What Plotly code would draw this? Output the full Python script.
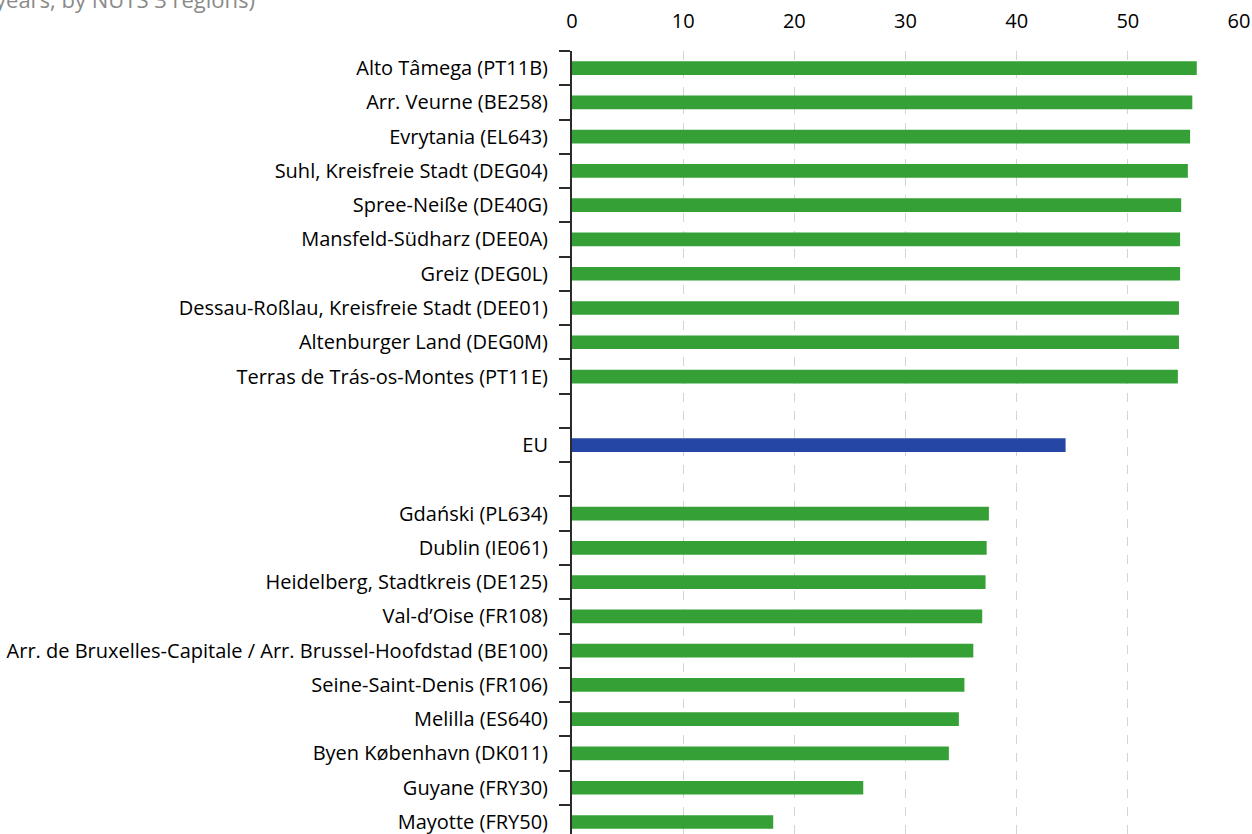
import plotly.graph_objects as go

regions = [
    "Alto Tâmega (PT11B)",
    "Arr. Veurne (BE258)",
    "Evrytania (EL643)",
    "Suhl, Kreisfreie Stadt (DEG04)",
    "Spree-Neiße (DE40G)",
    "Mansfeld-Südharz (DEE0A)",
    "Greiz (DEG0L)",
    "Dessau-Roßlau, Kreisfreie Stadt (DEE01)",
    "Altenburger Land (DEG0M)",
    "Terras de Trás-os-Montes (PT11E)",
    " ",
    "EU",
    "  ",
    "Gdański (PL634)",
    "Dublin (IE061)",
    "Heidelberg, Stadtkreis (DE125)",
    "Val-d’Oise (FR108)",
    "Arr. de Bruxelles-Capitale / Arr. Brussel-Hoofdstad (BE100)",
    "Seine-Saint-Denis (FR106)",
    "Melilla (ES640)",
    "Byen København (DK011)",
    "Guyane (FRY30)",
    "Mayotte (FRY50)",
]
values = [56.2, 55.8, 55.6, 55.4, 54.8, 54.7, 54.7, 54.6, 54.6, 54.5,
          None, 44.4, None,
          37.5, 37.3, 37.2, 36.9, 36.1, 35.3, 34.8, 33.9, 26.2, 18.1]
x_ticks = [0, 10, 20, 30, 40, 50, 60]

GREEN = "#34a035"
BLUE = "#2646a6"
colors = [BLUE if r == "EU" else GREEN for r in regions]

fig = go.Figure(go.Bar(
    x=values, y=regions, orientation="h",
    marker=dict(color=colors, line=dict(width=0)),
    width=0.4,
))

font_family = "Open Sans, Noto Sans, sans-serif"

fig.update_layout(
    width=1252, height=834,
    margin=dict(l=572, r=13, t=51, b=0),
    paper_bgcolor="white", plot_bgcolor="white",
    showlegend=False,
    font=dict(family=font_family, size=20, color="#000000"),
    xaxis=dict(
        side="top", range=[0, 60], tickvals=x_ticks,
        showgrid=True, gridcolor="#d4d4d4", griddash="dash", gridwidth=1,
        zeroline=False, showline=False, ticks="",
        tickfont=dict(size=20, family=font_family),
        ticklabelstandoff=18,
    ),
    yaxis=dict(
        type="category", categoryorder="array", categoryarray=regions,
        range=[22.35, -0.5],
        showline=True, linecolor="#2b2b2b", linewidth=2,
        ticks="outside", tickson="boundaries", ticklen=11, tickwidth=2, tickcolor="#2b2b2b",
        showgrid=False, zeroline=False,
        tickfont=dict(size=20, family=font_family),
        ticklabelstandoff=18,
    ),
)

fig.add_annotation(
    text="Median age of population, 1 January 2022 (years, by NUTS 3 regions)",
    xref="paper", yref="paper", x=(257 - 572) / 667, y=1, xanchor="right", yanchor="bottom",
    yshift=35, showarrow=False,
    font=dict(family=font_family, size=22, color="#8a8a8a"),
)

fig.write_html(
    "out.html",
    config={"displayModeBar": False},
    post_script="document.body.style.margin='0';document.body.style.overflow='hidden';",
)
